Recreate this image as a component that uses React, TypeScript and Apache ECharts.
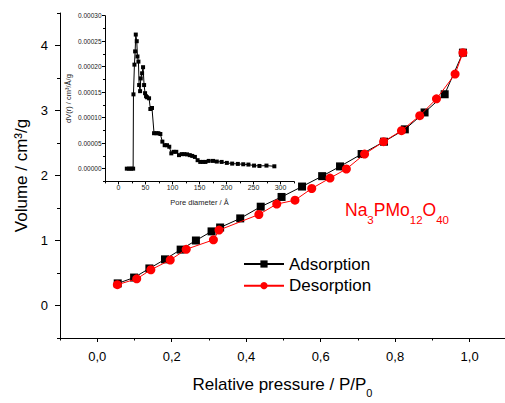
import React, { useEffect, useRef } from 'react';
import * as echarts from 'echarts';

// Main isotherm (relative pressure vs volume)
const adsorptionX = [0.055, 0.099, 0.14, 0.182, 0.224, 0.265, 0.307, 0.33, 0.384, 0.439, 0.495, 0.55, 0.604, 0.652, 0.71, 0.77, 0.826, 0.879, 0.933, 0.982];
const adsorptionY = [0.34, 0.43, 0.57, 0.71, 0.86, 1.0, 1.14, 1.2, 1.34, 1.52, 1.67, 1.83, 1.99, 2.14, 2.33, 2.52, 2.71, 2.97, 3.25, 3.89];
const desorptionX = [0.054, 0.106, 0.144, 0.196, 0.239, 0.312, 0.327, 0.434, 0.482, 0.531, 0.576, 0.625, 0.669, 0.718, 0.769, 0.817, 0.866, 0.911, 0.961, 0.982];
const desorptionY = [0.32, 0.41, 0.55, 0.7, 0.865, 1.01, 1.16, 1.4, 1.56, 1.62, 1.8, 1.96, 2.1, 2.33, 2.52, 2.69, 2.92, 3.18, 3.56, 3.89];

// Inset pore size distribution
const poreDiameter = [15.4, 19.7, 23.4, 27.1, 27.7, 29.5, 30.8, 32, 33.8, 35.1, 36.9, 38.2, 40, 41.2, 43.7, 45.5, 47.4, 49.2, 51, 52.9, 56.6, 59, 62, 65.8, 70.2, 73.8, 77.5, 81.2, 85.5, 89.8, 94, 97.8, 102, 107, 112, 117, 122, 127, 132, 136.6, 141.5, 146.5, 151.4, 156.3, 161, 167, 175, 182, 191, 200.6, 210.5, 221, 231, 240.6, 251, 261, 274, 288.6];
const poreVolume = [0, 0, 0, 0, 0.0001457, 0.000204, 0.00023, 0.000263, 0.00025, 0.00022, 0.00021, 0.000164, 0.000152, 0.000177, 0.000187, 0.000199, 0.000164, 0.000148, 0.000142, 0.00014, 0.000138, 0.000117, 0.000119, 0.0000695, 0.0000695, 0.0000695, 0.000068, 0.000053, 0.000046, 0.000046, 0.000043, 0.00003, 0.000033, 0.000033, 0.0000265, 0.0000285, 0.0000285, 0.000028, 0.0000265, 0.000025, 0.000023, 0.0000166, 0.0000132, 0.0000132, 0.0000132, 0.0000152, 0.0000152, 0.0000139, 0.0000132, 0.0000113, 0.0000099, 0.0000093, 0.0000086, 0.000008, 0.000006, 0.0000053, 0.000006, 0.0000046];

// Tick values
const mainXMajor = [0, 0.2, 0.4, 0.6, 0.8, 1.0];
const mainXMinor = [-0.1, 0.1, 0.3, 0.5, 0.7, 0.9];
const mainYMajor = [0, 1, 2, 3, 4];
const mainYMinor = [-0.5, 0.5, 1.5, 2.5, 3.5, 4.5];
const insetXMajor = [0, 50, 100, 150, 200, 250, 300];
const insetXMinor = [-25, 25, 75, 125, 175, 225, 275, 325];
const insetYMajor = [0, 0.00005, 0.0001, 0.00015, 0.0002, 0.00025, 0.0003];
const insetYMinor = [-0.000025, 0.000025, 0.000075, 0.000125, 0.000175, 0.000225, 0.000275];

const FONT = '"Liberation Sans", Arial, sans-serif';

export default function App() {
  const ref = useRef<HTMLDivElement>(null);
  useEffect(() => {
    if (!ref.current) return;
    const chart = echarts.init(ref.current, null, { renderer: 'svg' });
    const ads = adsorptionX.map((x, i) => [x, adsorptionY[i]]);
    const des = desorptionX.map((x, i) => [x, desorptionY[i]]);
    const psd = poreDiameter.map((x, i) => [x, poreVolume[i]]);

    const mainX = { min: -0.1, max: 1.095 };
    const mainY = { min: -0.5, max: 4.5 };
    const inX = { min: -25, max: 325 };
    const inY = { min: -0.000025, max: 0.0003 };
    const line = { show: true, onZero: false, lineStyle: { color: '#000', width: 1 } };
    const noLine = { show: false, onZero: false };

    chart.setOption({
      animation: false,
      textStyle: { fontFamily: FONT },
      grid: [
        { left: 60, right: 0, top: 13, height: 330 },
        { left: 105, width: 189, top: 15.7, height: 165.7 },
      ],
      xAxis: [
        {
          type: 'value', gridIndex: 0, position: 'bottom', ...mainX,
          axisLine: line,
          axisTick: { show: true, length: 4, customValues: mainXMajor, lineStyle: { color: '#000' } },
          axisLabel: { show: true, customValues: mainXMajor, margin: 12, fontSize: 13, color: '#000', fontFamily: FONT, formatter: (v: number) => v.toFixed(1).replace('.', ',') },
          splitLine: { show: false },
          name: 'Relative pressure / P/P{sub|0}', nameLocation: 'middle', nameGap: 33,
          nameTextStyle: { fontSize: 17, color: '#000', fontFamily: FONT, rich: { sub: { fontSize: 11, color: '#000', fontFamily: FONT, verticalAlign: 'bottom', lineHeight: 27 } } },
        },
        {
          type: 'value', gridIndex: 0, position: 'bottom', ...mainX,
          axisLine: noLine,
          axisTick: { show: true, length: 2.5, customValues: mainXMinor, lineStyle: { color: '#000' } },
          axisLabel: { show: false },
          splitLine: { show: false },
        },
        {
          type: 'value', gridIndex: 1, position: 'bottom', ...inX,
          axisLine: line,
          axisTick: { show: true, length: 3, customValues: insetXMajor, lineStyle: { color: '#000' } },
          axisLabel: { show: true, customValues: insetXMajor, margin: 3, fontSize: 7, color: '#222', fontFamily: FONT },
          splitLine: { show: false },
          name: 'Pore diameter / Å', nameLocation: 'middle', nameGap: 17,
          nameTextStyle: { fontSize: 7.5, color: '#222', fontFamily: FONT },
        },
        {
          type: 'value', gridIndex: 1, position: 'bottom', ...inX,
          axisLine: noLine,
          axisTick: { show: true, length: 2, customValues: insetXMinor, lineStyle: { color: '#000' } },
          axisLabel: { show: false },
          splitLine: { show: false },
        },
      ],
      yAxis: [
        {
          type: 'value', gridIndex: 0, position: 'left', ...mainY,
          axisLine: line,
          axisTick: { show: true, length: 5, customValues: mainYMajor, lineStyle: { color: '#000' } },
          axisLabel: { show: true, customValues: mainYMajor, margin: 12, fontSize: 13, color: '#000', fontFamily: FONT },
          splitLine: { show: false },
          name: 'Volume / cm³/g', nameLocation: 'middle', nameGap: 29, nameRotate: 90,
          nameTextStyle: { fontSize: 17, color: '#000', fontFamily: FONT },
        },
        {
          type: 'value', gridIndex: 0, position: 'left', ...mainY,
          axisLine: noLine,
          axisTick: { show: true, length: 3, customValues: mainYMinor, lineStyle: { color: '#000' } },
          axisLabel: { show: false },
          splitLine: { show: false },
        },
        {
          type: 'value', gridIndex: 1, position: 'left', ...inY,
          axisLine: line,
          axisTick: { show: true, length: 3, customValues: insetYMajor, lineStyle: { color: '#000' } },
          axisLabel: { show: true, customValues: insetYMajor, margin: 3.5, fontSize: 6.5, color: '#222', fontFamily: FONT, formatter: (v: number) => v.toFixed(5) },
          splitLine: { show: false },
          name: 'dV(r) / cm³/Å/g', nameLocation: 'middle', nameGap: 33, nameRotate: 90,
          nameTextStyle: { fontSize: 7.5, color: '#222', fontFamily: FONT },
        },
        {
          type: 'value', gridIndex: 1, position: 'left', ...inY,
          axisLine: noLine,
          axisTick: { show: true, length: 2, customValues: insetYMinor, lineStyle: { color: '#000' } },
          axisLabel: { show: false },
          splitLine: { show: false },
        },
      ],
      legend: {
        data: ['Adsorption', 'Desorption'],
        orient: 'vertical', left: 243, top: 255.5, padding: 0,
        itemWidth: 40, itemHeight: 9, itemGap: 4.7,
        textStyle: { fontSize: 17, color: '#000', fontFamily: FONT, lineHeight: 17 },
      },
      graphic: [
        {
          type: 'text', x: 345, y: 210,
          style: {
            text: '{n|Na}{s|3}{n|PMo}{s|12}{n|O}{s|40}',
            fill: '#ff0000',
            verticalAlign: 'middle',
            rich: {
              n: { fontSize: 17.5, fontFamily: FONT, fill: '#ff0000' },
              s: { fontSize: 11.5, fontFamily: FONT, fill: '#ff0000', verticalAlign: 'bottom', lineHeight: 32 },
            },
          },
        },
      ],
      series: [
        {
          name: 'Adsorption', type: 'line', xAxisIndex: 0, yAxisIndex: 0, data: ads,
          symbol: 'rect', symbolSize: 8, z: 2,
          itemStyle: { color: '#000' }, lineStyle: { color: '#000', width: 1 },
        },
        {
          name: 'Desorption', type: 'line', xAxisIndex: 0, yAxisIndex: 0, data: des,
          symbol: 'circle', symbolSize: 9, z: 3,
          itemStyle: { color: '#ff0000' }, lineStyle: { color: '#ff0000', width: 1 },
        },
        {
          name: 'PSD', type: 'line', xAxisIndex: 2, yAxisIndex: 2, data: psd,
          symbol: 'rect', symbolSize: 4, z: 2,
          itemStyle: { color: '#000' }, lineStyle: { color: '#000', width: 1 },
        },
      ],
    });
    return () => chart.dispose();
  }, []);
  return <div ref={ref} style={{ position: 'fixed', left: 0, top: 0, width: 505, height: 403, background: '#fff' }} />;
}
